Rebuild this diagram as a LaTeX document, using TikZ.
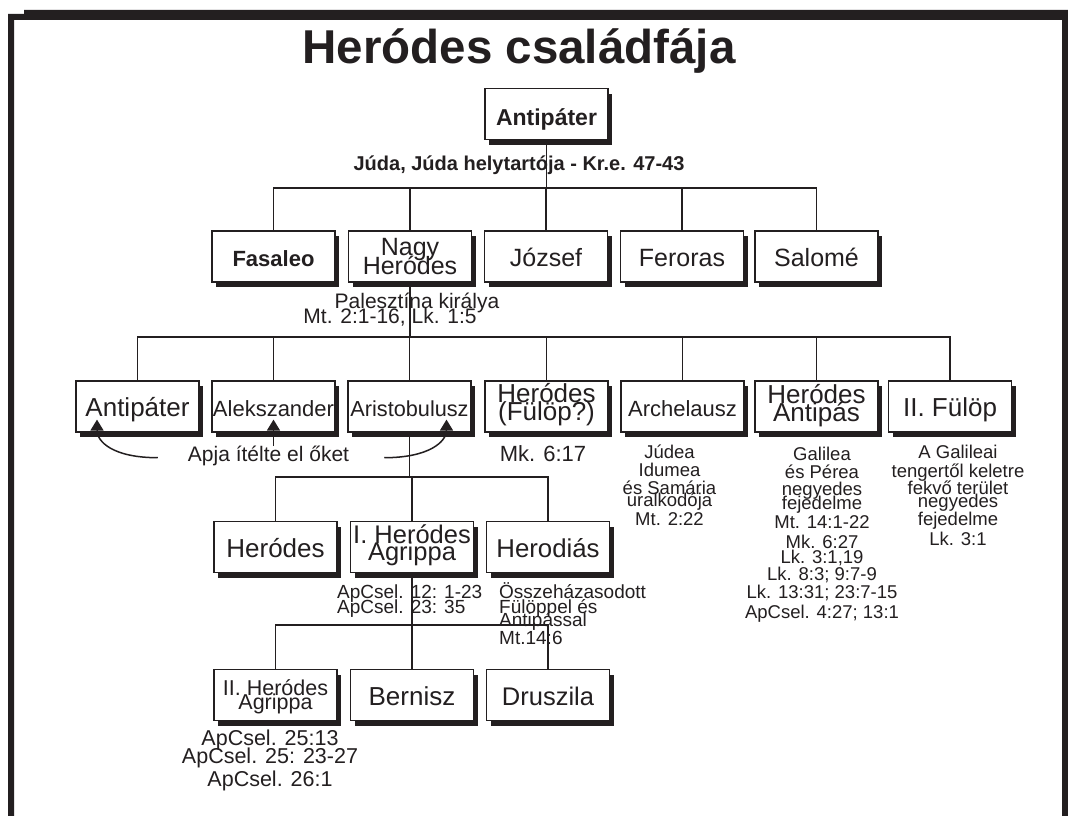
\documentclass[tikz,border=0pt]{standalone}
\usepackage{fontspec}
\setmainfont{Liberation Sans}
\usetikzlibrary{shadows,arrows.meta,calc}
\definecolor{ink}{HTML}{231F20}
\newcommand\setfs[2]{\fontsize{#1}{#2}\selectfont\lineskiplimit=-100pt\relax}
\begin{document}
\begin{tikzpicture}[x=1pt,y=-1pt,
  every node/.style={text=ink},
  box/.style={draw=ink, line width=1.6pt, fill=white, minimum width=123pt,
    minimum height=51pt, inner sep=0pt, align=center,
    drop shadow={shadow xshift=4pt, shadow yshift=-5pt, opacity=1, fill=ink}},
  one/.style={text height=20pt, text depth=0pt},
  wire/.style={draw=ink, line width=1.6pt},
  arr/.style={draw=ink, line width=1.5pt, -{Triangle[width=13pt,length=11pt]}},
  note/.style={inner sep=0pt, align=center, anchor=base}]
\useasboundingbox (0,0) rectangle (1068,816);
\fill[white] (0,0) rectangle (1068,816);
% frame
\fill[ink] (8,14) -- (24,14) -- (24,10) -- (1068,10) -- (1068,816) -- (1062,816)
  -- (1062,20) -- (14,20) -- (14,816) -- (8,816) -- cycle;
% title
\node[note, font=\setfs{47.5}{48}\bfseries] (title) at (519,63.3) {Heródes családfája};
% top
\node[box, text height=22pt, text depth=0pt, font=\setfs{23}{23}\bfseries] (antip) at (546.5,114) {Antipáter};
\node[note, font=\setfs{20}{20}\bfseries] (juda) at (519,170) {Júda, Júda helytartója - Kr.e. 47-43};
% level 1
\node[box, one, font=\setfs{22}{22}\bfseries] (fas) at (273.5,256.5) {Fasaleo};
\node[box, text height=40pt, text depth=5pt, font=\setfs{25}{19}] (nagy) at (410,256.5) {Nagy\\Heródes};
\node[box, one, font=\setfs{25}{25}] (joz) at (546,256.5) {József};
\node[box, one, font=\setfs{25}{25}] (fer) at (682,256.5) {Feroras};
\node[box, one, font=\setfs{25}{25}] (sal) at (816.5,256.5) {Salomé};
% level 2
\node[box, one, font=\setfs{26}{26}] (antp2) at (137.5,406.3) {Antipáter};
\node[box, one, font=\setfs{22}{22}] (alek) at (273.5,406.3) {Alekszander};
\node[box, one, font=\setfs{21.7}{21.7}] (aris) at (409.5,406.3) {Aristobulusz};
\node[box, text height=32.4pt, text depth=5pt, font=\setfs{26}{17.3}] (hful) at (546.5,406.3) {Heródes\\(Fülöp?)};
\node[box, one, font=\setfs{22}{22}] (arch) at (682.5,406.3) {Archelausz};
\node[box, text height=35.8pt, text depth=5pt, font=\setfs{26}{18.7}] (hant) at (816.5,406.3) {Heródes\\Antipás};
\node[box, one, font=\setfs{26}{26}] (fulop) at (950,406.3) {II. Fülöp};
% level 3
\node[box, one, font=\setfs{26}{26}] (hero3) at (275.5,547) {Heródes};
\node[box, text height=31pt, text depth=5pt, font=\setfs{25.5}{17}] (agr) at (412,547) {I. Heródes\\Agrippa};
\node[box, one, font=\setfs{25.8}{25.8}] (hdias) at (548,547) {Herodiás};
% level 4
\node[box, text height=33pt, text depth=5pt, font=\setfs{21.5}{14}] (agr2) at (275.5,695) {II. Heródes\\Agrippa};
\node[box, one, font=\setfs{26}{26}] (bern) at (412,695) {Bernisz};
\node[box, one, font=\setfs{25.5}{25.5}] (drus) at (548,695) {Druszila};
% bars
\coordinate (b1) at (0,188);
\coordinate (b2) at (0,336.7);
\coordinate (b3) at (0,476.7);
\coordinate (b4) at (0,625);
\draw[wire] (antip.south) -- (antip.south |- b1);
\draw[wire] (fas.north) -- (fas.north |- b1) -- (sal.north |- b1) -- (sal.north);
\foreach \n in {nagy,joz,fer} \draw[wire] (\n.north) -- (\n.north |- b1);
\draw[wire] (nagy.south) -- (nagy.south |- b2);
\draw[wire] (antp2.north) -- (antp2.north |- b2) -- (fulop.north |- b2) -- (fulop.north);
\foreach \n in {alek,aris,hful,arch,hant} \draw[wire] (\n.north) -- (\n.north |- b2);
\draw[wire] (aris.south) -- (aris.south |- b3);
\draw[wire] (hero3.north) -- (hero3.north |- b3) -- (hdias.north |- b3) -- (hdias.north);
\draw[wire] (agr.north) -- (agr.north |- b3);
\draw[wire] (agr.south) -- (agr.south |- b4);
\draw[wire] (agr2.north) -- (agr2.north |- b4) -- (drus.north |- b4) -- (drus.north);
\draw[wire] (bern.north) -- (bern.north |- b4);
% notes (anchor base = baseline of the last line)
\node[note, font=\setfs{21}{15}] (pal) at (403.5,323) {\hspace*{27pt}Palesztína királya\\Mt. 2:1-16, Lk. 1:5\hspace*{27pt}};
\node[note, font=\setfs{21}{21}] (apja) at (268.5,461.7) {Apja ítélte el őket};
\node[note, font=\setfs{22}{22}] (mk) at (543,461.7) {Mk. 6:17};
\node[note, font=\setfs{18.5}{17.5}] (archn) at (669.5,525) {Júdea\\[1pt]Idumea\\és Samária\\[-5pt]uralkodója\\[1pt]Mt. 2:22};
\node[note, font=\setfs{18.5}{17.5}] (hantn) at (822,618) {Galilea\\és Pérea\\negyedes\\[-4pt]fejedelme\\[1.5pt]Mt. 14:1-22\\[2.5pt]Mk. 6:27\\[-2.5pt]Lk. 3:1,19\\Lk. 8:3; 9:7-9\\Lk. 13:31; 23:7-15\\[2.5pt]ApCsel. 4:27; 13:1};
\node[note, font=\setfs{18.5}{17.5}] (fuln) at (958,545) {A Galileai\\[1pt]tengertől keletre\\fekvő terület\\[-4.5pt]negyedes\\fejedelme\\[2.5pt]Lk. 3:1};
\node[note, anchor=base west, align=left, font=\setfs{19}{15}] (agrn) at (337,613) {ApCsel. 12: 1-23\\ApCsel. 23: 35};
\node[note, anchor=base west, align=left, font=\setfs{19}{15.5}] (hdn) at (499,644) {Összeházasodott\\Fülöppel és\\[-3pt]Antipással\\[2.5pt]Mt.14:6};
\node[note, font=\setfs{21.5}{18}] (agr2n) at (270,786) {ApCsel. 25:13\\ApCsel. 25: 23-27\\[5pt]ApCsel. 26:1};
% arrows
\draw[arr] ($(apja.base west)+(-30,-4)$) .. controls +(-45,0) and +(0,22) .. ($(antp2.south)+(-40.5,-13)$);
\draw[arr] (apja.north -| alek.south) -- ($(alek.south)+(0,-13)$);
\draw[arr] ($(apja.base east)+(35,-4)$) .. controls +(45,0) and +(0,22) .. ($(aris.south)+(37,-13)$);
\end{tikzpicture}
\end{document}
